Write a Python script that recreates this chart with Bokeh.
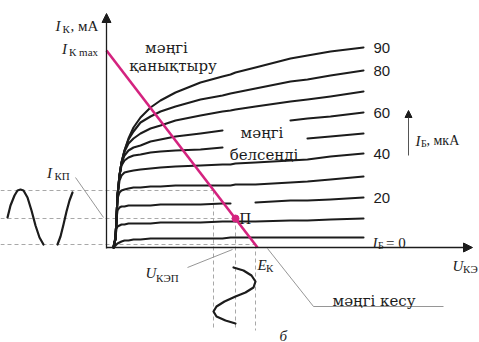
from bokeh.plotting import figure
from bokeh.models import Range1d, Arrow, NormalHead, Label
from bokeh.embed import file_html
from bokeh.resources import INLINE
from bokeh.core.properties import value

nan = float("nan")

# Output characteristics of the transistor: collector current I_K (mA)
# against collector-emitter voltage U_KE (V) for base currents I_B (uA).
u_grid = [0.7, 0.9, 1.0, 1.1, 1.3, 1.5, 1.8, 2.2, 2.7, 3.4, 4.4, 5.4, 6.9, 9.4,
          11.6, 12.4, 12.9, 14.9, 18.4, 20.1, 22.4, 25.7]

ib_90 = [0.0, 0.45, 1.45, 2.6, 3.6, 4.25, 4.85, 5.45, 6.0, 6.5, 7.0, 7.35, 7.75, 8.25,
         8.55, 8.65, 8.75, 9.0, 9.45, 9.6, 9.8, 10.0]
ib_80 = [0.0, 0.45, 1.45, 2.6, 3.6, 4.25, 4.85, 5.4, 5.8, 6.25, 6.55, 6.8, 7.05, 7.4,
         7.6, 7.7, 7.75, 7.95, 8.3, 8.4, 8.6, 8.85]
ib_70 = [0.0, 0.45, 1.45, 2.6, 3.6, 4.25, 4.8, 5.2, 5.45, 5.7, 5.95, 6.1, 6.35, 6.6,
         6.8, 6.85, 6.9, 7.05, 7.3, 7.4, 7.55, 7.8]
ib_60 = [0.0, 0.45, 1.45, 2.6, 3.6, 4.2, 4.6, 4.85, 5.0, 5.1, 5.3, 5.4, 5.55, 5.7,
         5.85, nan, nan, nan, 6.35, 6.45, 6.55, 6.75]
ib_50 = [0.0, 0.45, 1.45, 2.6, 3.6, 4.1, 4.35, 4.5, 4.6, 4.65, 4.75, 4.8, 4.85, 4.9,
         5.0, nan, nan, nan, nan, 5.45, 5.55, 5.7]
ib_40 = [0.0, 0.45, 1.45, 2.6, 3.35, 3.6, 3.75, 3.8, 3.85, 3.9, 3.95, 4.0, 4.05, 4.1,
         4.15, 4.15, 4.2, 4.25, 4.35, 4.4, 4.55, 4.7]
ib_30 = [0.0, 0.45, 1.45, 2.45, 2.75, 2.85, 2.9, 2.95, 3.0, 3.0, 3.05, 3.05, 3.1, 3.1,
         3.1, 3.1, 3.15, 3.15, 3.25, 3.3, 3.4, 3.55]
ib_20 = [0.0, 0.45, 1.45, 1.85, 2.0, 2.05, 2.05, 2.1, 2.1, 2.1, 2.1, 2.15, 2.15, 2.15,
         2.2, 2.2, nan, 2.25, 2.35, 2.35, 2.4, 2.5]
ib_10 = [0.0, 0.55, 0.95, 1.05, 1.1, 1.15, 1.15, 1.2, 1.2, 1.2, 1.2, 1.25, 1.25, 1.25,
         1.3, 1.3, 1.3, 1.3, 1.35, 1.35, 1.4, 1.45]
ib_0 = [0.0, 0.1, 0.15, 0.2, 0.25, 0.3, 0.35, 0.35, 0.4, 0.4, 0.45, 0.45, 0.45, 0.45,
        0.45, 0.5, 0.5, 0.5, 0.5, 0.5, 0.5, 0.5]

curves = [ib_0, ib_10, ib_20, ib_30, ib_40, ib_50, ib_60, ib_70, ib_80, ib_90]
curve_labels = {"90": ib_90, "80": ib_80, "60": ib_60, "40": ib_40, "20": ib_20}

# Load line: from I_K max on the current axis to E_K on the voltage axis
ik_max = 9.85
e_k = 15.1
# Quiescent point П
u_q = 12.9
i_q = 1.45
# Signal swing along the load line (top, quiescent, bottom)
u_swing = [10.7, 12.9, 14.9]
i_swing = [2.85, 1.45, 0.15]

# Collector current waveform (left), drawn as two strokes
ik_wave_u1 = [-9.9, -9.6, -9.2, -8.9, -8.6, -8.3, -7.9, -7.5, -7.1, -6.7, -6.3]
ik_wave_i1 = [1.5, 2.1, 2.6, 2.85, 2.9, 2.85, 2.5, 1.85, 1.1, 0.5, 0.15]
ik_wave_u2 = [-4.9, -4.6, -4.3, -4.0, -3.7, -3.4]
ik_wave_i2 = [0.15, 0.55, 1.15, 1.8, 2.35, 2.75]

# Collector-emitter voltage waveform (below the axis)
uke_wave_u = [12.7, 13.7, 14.5, 14.9, 14.7, 13.9, 12.9, 11.8, 11.0, 10.7, 11.0, 11.9, 12.9]
uke_wave_i = [-1.0, -1.15, -1.4, -1.7, -2.0, -2.25, -2.45, -2.7, -2.95, -3.2, -3.45, -3.65, -3.8]

INK = "#1c1c1c"
MAGENTA = "#d4237f"
DASH = "#a8a8a8"
LEADER = "#8a8a8a"
SERIF = "Liberation Serif"
KZ = "DejaVu Serif"

p = figure(width=479, height=342, x_range=Range1d(-10.6, 37.3), y_range=Range1d(-4.75, 12.35),
           output_backend="svg", toolbar_location=None, min_border=0,
           x_axis_type=None, y_axis_type=None)
p.grid.visible = False
p.outline_line_color = None
p.background_fill_color = "white"
p.border_fill_color = "white"

# dashed projection lines of the operating swing
bottom = -4.15
p.segment(x0=[-10.6] * 3, y0=i_swing, x1=u_swing, y1=i_swing,
          line_color=DASH, line_width=1, line_dash="4 3")
p.segment(x0=u_swing, y0=i_swing, x1=u_swing, y1=[bottom] * 3,
          line_color=DASH, line_width=1, line_dash="4 3")

# axes with arrow heads
p.add_layout(Arrow(end=NormalHead(size=9, fill_color=INK, line_color=INK, line_width=1),
                   x_start=0, y_start=-0.05, x_end=0, y_end=11.7, line_color=INK, line_width=1.3))
p.add_layout(Arrow(end=NormalHead(size=9, fill_color=INK, line_color=INK, line_width=1),
                   x_start=0, y_start=0, x_end=36.6, y_end=0, line_color=INK, line_width=1.3))
# I_B direction arrow
p.add_layout(Arrow(end=NormalHead(size=7, fill_color=INK, line_color=INK, line_width=1),
                   x_start=30.2, y_start=4.6, x_end=30.2, y_end=6.85, line_color="#555555", line_width=1))

# characteristic curves
for ib in curves:
    p.line(u_grid, ib, line_color=INK, line_width=2.1, line_join="round", line_cap="round")

# leader lines
p.line([-3.1, -0.3], [3.5, 1.5], line_color=LEADER, line_width=0.9)
p.line([8.1, 12.6], [-1.0, -0.1], line_color=LEADER, line_width=0.9)
p.line([16.1, 20.7, 33.7], [-0.05, -2.95, -2.95], line_color=LEADER, line_width=0.9)

# signal waveforms
p.line(ik_wave_u1, ik_wave_i1, line_color=INK, line_width=2.2, line_cap="round", line_join="round")
p.line(ik_wave_u2, ik_wave_i2, line_color=INK, line_width=2.2, line_cap="round", line_join="round")
p.line(uke_wave_u, uke_wave_i, line_color=INK, line_width=2.2, line_cap="round", line_join="round")

# load line and operating point
p.line([0, e_k], [ik_max, 0], line_color=MAGENTA, line_width=2.6)
p.scatter([u_q], [i_q], size=7, fill_color=MAGENTA, line_color=MAGENTA)


def txt(x, y, s, size, font=SERIF, style="normal", align="left", color=INK):
    p.text(x=[x], y=[y], text=[s], text_font=value(font), text_font_size=f"{size}px",
           text_font_style=style, text_align=align, text_baseline="alphabetic",
           text_color=color)


# curve values
for lbl, ib in curve_labels.items():
    p.text(x=[26.7], y=[ib[-1]], text=[lbl], text_font=value("Liberation Sans"),
           text_font_size="15px", text_align="left", text_baseline="middle", text_color=INK)

# I_B = 0
txt(26.6, 0.25, "I", 15, style="italic")
txt(27.15, 0.1, "Б", 10)
txt(27.95, 0.25, "= 0", 15)

# I_B, мкА
txt(30.9, 5.35, "I", 15, style="italic")
txt(31.45, 5.2, "Б", 10)
txt(32.0, 5.35, ", мкА", 14)

# axis titles
txt(-5.1, 11.1, "I", 15, style="italic")
txt(-4.4, 10.95, "К", 11)
txt(-3.6, 11.1, ", мА", 15)
txt(-4.45, 9.95, "I", 15, style="italic")
txt(-3.75, 9.8, "К max", 11)
txt(34.6, -0.9, "U", 15, style="italic")
txt(35.65, -1.05, "КЭ", 11)

# marked quantities
txt(-5.95, 3.75, "I", 15, style="italic")
txt(-5.2, 3.6, "КП", 11)
txt(3.9, -1.25, "U", 15, style="italic")
txt(4.95, -1.5, "КЭП", 11)
txt(15.1, -0.85, "E", 15, style="italic")
txt(15.95, -1.0, "К", 11)
txt(17.3, -4.4, "б", 15, style="italic")

# operating regions
txt(6.0, 10.0, "мәңгі", 15, font=KZ, align="center")
txt(6.65, 9.1, "қанықтыру", 15, font=KZ, align="center")
txt(15.55, 5.75, "мәңгі", 15, font=KZ, align="center")
txt(15.75, 4.65, "белсенді", 15, font=KZ, align="center")
txt(26.75, -2.65, "мәңгі кесу", 15, font=KZ, align="center")

p.add_layout(Label(x=13.3, y=1.45, text="П", text_font=SERIF, text_font_size="16px",
                   text_color=INK, text_baseline="alphabetic"))

open("out.html", "w").write(file_html(p, INLINE))
